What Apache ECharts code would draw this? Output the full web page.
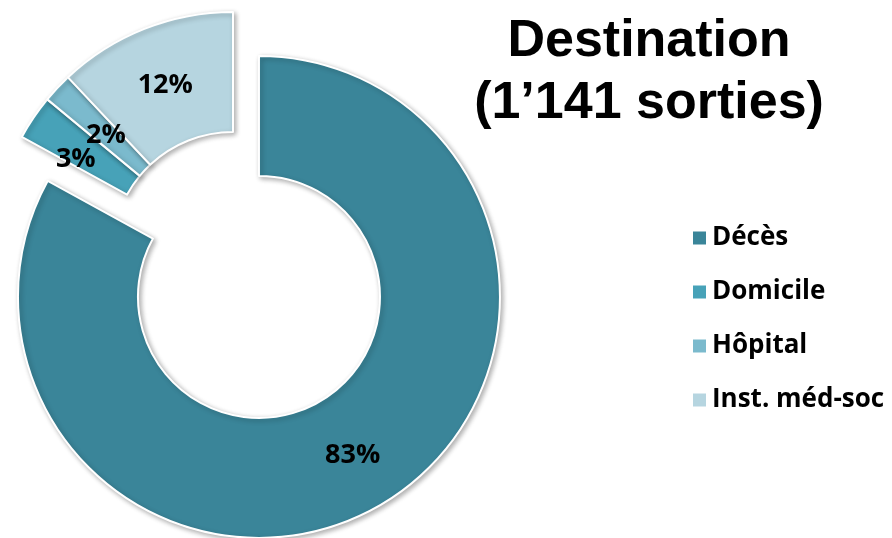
<!DOCTYPE html>
<html>
<head>
<meta charset="utf-8">
<script src="https://cdn.jsdelivr.net/npm/echarts@6/dist/echarts.min.js"></script>
<style>
  html, body { margin: 0; padding: 0; background: #ffffff; }
  #chart { width: 892px; height: 538px; }
</style>
</head>
<body>
<div id="chart"></div>
<script>
// Data
const categories = ['Décès', 'Domicile', 'Hôpital', 'Inst. méd-soc'];
const percentValues = [83, 3, 2, 12];
const explodedCategory = 'Décès';
const titleLines = ['Destination', '(1’141 sorties)'];

// Styles (not data)
const sliceColors = ['#3a8599', '#47a2b8', '#7bbacd', '#b6d5e0'];
const labelNudge = [[0, 0], [-5, 10], [7, 8], [0, 3]];

const chart = echarts.init(document.getElementById('chart'), null, { renderer: 'canvas' });

const pieData = categories.map((name, i) => ({
  name: name,
  value: percentValues[i],
  selected: name === explodedCategory,
  itemStyle: { color: sliceColors[i] },
  label: { offset: labelNudge[i] }
}));

chart.setOption({
  animation: false,
  backgroundColor: '#ffffff',
  title: {
    text: titleLines.join('\n'),
    left: 644,
    top: 6,
    textAlign: 'center',
    textStyle: {
      fontFamily: '"Liberation Sans", Arial, sans-serif',
      fontWeight: 'bold',
      fontSize: 52,
      lineHeight: 62,
      color: '#000000'
    }
  },
  legend: {
    orient: 'vertical',
    left: 686,
    top: 218,
    icon: 'rect',
    itemWidth: 15,
    itemHeight: 15,
    itemGap: 24,
    selectedMode: false,
    data: categories,
    textStyle: {
      fontFamily: '"Open Sans", sans-serif',
      fontWeight: 'bold',
      fontSize: 26,
      lineHeight: 30,
      color: '#000000',
      padding: [0, 0, 0, 0]
    }
  },
  series: [{
    type: 'pie',
    center: [233, 253],
    radius: [121, 241],
    startAngle: 90,
    clockwise: true,
    selectedMode: 'multiple',
    selectedOffset: 51,
    avoidLabelOverlap: false,
    labelLayout: { hideOverlap: false },
    emphasis: { disabled: true },
    itemStyle: {
      borderColor: '#ffffff',
      borderWidth: 2,
      shadowBlur: 5,
      shadowOffsetX: 2,
      shadowOffsetY: 2,
      shadowColor: 'rgba(0,0,0,0.3)'
    },
    label: {
      show: true,
      position: 'inside',
      formatter: '{c}%',
      fontFamily: '"Open Sans", sans-serif',
      fontWeight: 'bold',
      fontSize: 27,
      color: '#000000'
    },
    labelLine: { show: false },
    data: pieData
  }]
});
</script>
</body>
</html>
